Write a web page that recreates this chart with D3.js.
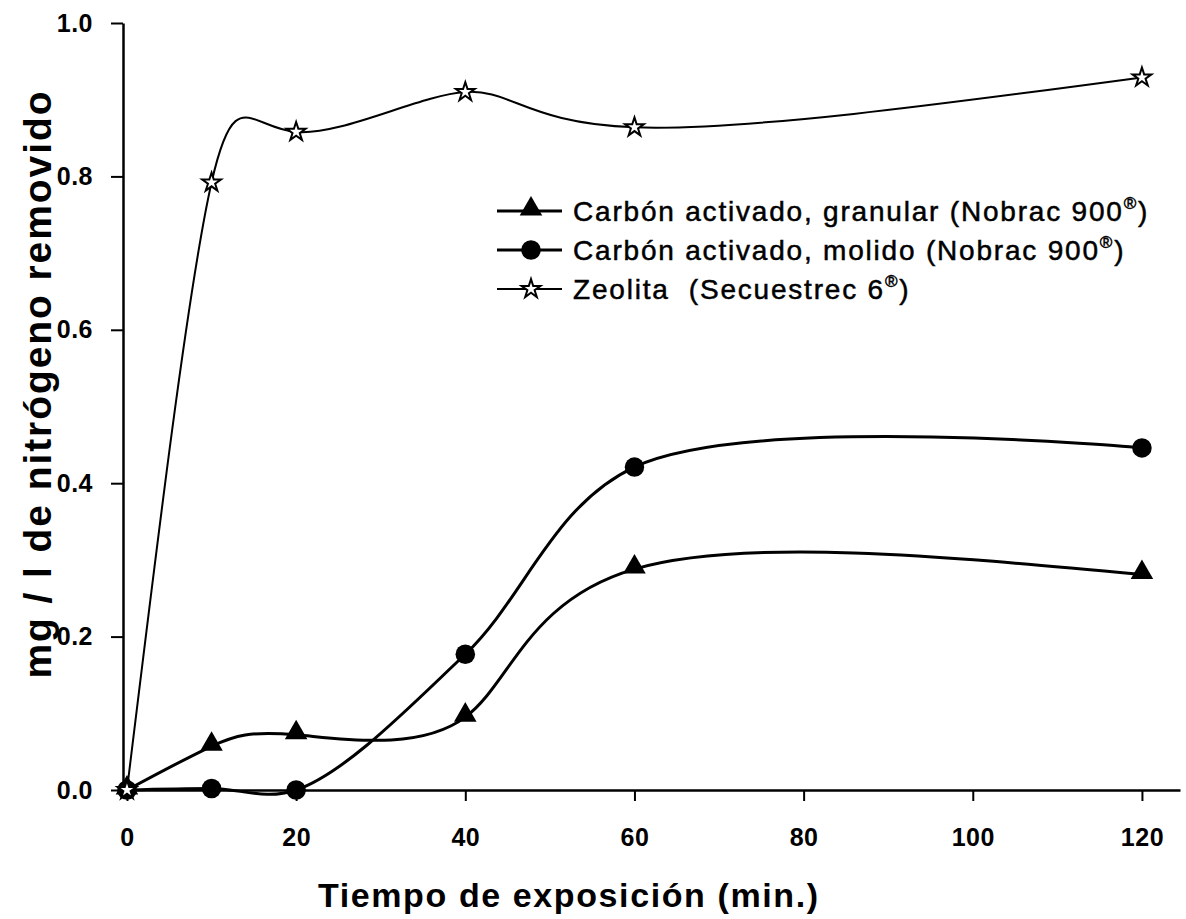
<!DOCTYPE html>
<html lang="es">
  <head>
    <meta charset="UTF-8">
    <title>Nitrógeno removido</title>
    <style>
      body { margin: 0; background: #fff; }
      svg text { font-family: "Liberation Sans", Arial, sans-serif; fill: #000; }
    </style>
  </head>
  <body>
    <div id="data_viz_area"></div>
    <script src="https://d3js.org/d3.v7.js"></script>
    <script>
        // values
        var tiempo = [0, 10, 20, 40, 60, 120];
        var granular = [0, 0.057, 0.072, 0.095, 0.288, 0.281];
        var molido = [0, 0.002, 0, 0.177, 0.421, 0.446];
        var zeolita = [0, 0.792, 0.858, 0.910, 0.864, 0.929];
        var xTicks = [0, 20, 40, 60, 80, 100, 120];
        var yTicks = [0, 0.2, 0.4, 0.6, 0.8, 1.0];
        var seriesNames = ["Carbón activado, granular (Nobrac 900", "Carbón activado, molido (Nobrac 900", "Zeolita  (Secuestrec 6"];

        var width = 1186, height = 919;

        var svg = d3.select("#data_viz_area")
          .append("svg")
            .attr("width", width)
            .attr("height", height);

        var x = d3.scaleLinear()
            .domain([-0.47, 124.5])
            .range([123, 1180]);

        var y = d3.scaleLinear()
            .domain([0, 1])
            .range([790, 23]);

        // X axis
        svg.append("g")
            .attr("transform", "translate(0," + y(0) + ")")
            .call(d3.axisBottom(x).tickValues(xTicks).tickSize(11).tickSizeOuter(0).tickPadding(27)
                .tickFormat(d3.format("d")));

        // Y axis
        svg.append("g")
            .attr("transform", "translate(" + x(-0.47) + ",0)")
            .call(d3.axisLeft(y).tickValues(yTicks).tickSize(12).tickSizeOuter(0).tickPadding(18)
                .tickFormat(d3.format(".1f")));

        svg.selectAll(".domain").attr("stroke-width", 2.5);
        svg.selectAll(".tick line").attr("stroke-width", 2);
        svg.selectAll(".tick text")
            .style("font-size", "25px")
            .style("font-weight", "bold")
            .style("letter-spacing", "0.5px");

        // axis titles
        svg.append("text")
            .attr("x", 568)
            .attr("y", 907)
            .attr("text-anchor", "middle")
            .style("font-size", "34px")
            .style("font-weight", "bold")
            .attr("textLength", 500)
            .attr("lengthAdjust", "spacing")
            .text("Tiempo de exposición (min.)");

        svg.append("text")
            .attr("transform", "translate(51,385) rotate(-90)")
            .attr("text-anchor", "middle")
            .style("font-size", "39px")
            .style("font-weight", "bold")
            .attr("textLength", 587)
            .attr("lengthAdjust", "spacing")
            .text("mg / l de nitrógeno removido");

        // lines
        function lineFor(vals, curve) {
            return d3.line()
                .x(function(d, i){ return x(tiempo[i]); })
                .y(function(d){ return y(d); })
                .curve(curve)(vals);
        }

        svg.append("path").attr("d", lineFor(zeolita, d3.curveNatural))
            .attr("fill", "none").attr("stroke", "#000").attr("stroke-width", 2);
        svg.append("path").attr("d", lineFor(granular, d3.curveNatural))
            .attr("fill", "none").attr("stroke", "#000").attr("stroke-width", 3);
        svg.append("path").attr("d", lineFor(molido, d3.curveCatmullRom.alpha(0.5)))
            .attr("fill", "none").attr("stroke", "#000").attr("stroke-width", 3);

        var tri = d3.symbol().type(d3.symbolTriangle).size(220);
        var circ = d3.symbol().type(d3.symbolCircle).size(300);
        var star = d3.symbol().type(d3.symbolStar).size(110);

        svg.selectAll(".tri")
          .data(granular)
          .enter()
          .append("path")
            .attr("d", tri)
            .attr("transform", function(d, i){ return "translate(" + x(tiempo[i]) + "," + (y(d) - 2) + ")"; })
            .attr("fill", "#000");

        svg.selectAll(".circ")
          .data(molido)
          .enter()
          .append("path")
            .attr("d", circ)
            .attr("transform", function(d, i){ return "translate(" + x(tiempo[i]) + "," + y(d) + ")"; })
            .attr("fill", "#000");

        svg.selectAll(".star")
          .data(zeolita)
          .enter()
          .append("path")
            .attr("d", star)
            .attr("transform", function(d, i){ return "translate(" + x(tiempo[i]) + "," + y(d) + ")"; })
            .attr("fill", "#fff")
            .attr("stroke", "#000")
            .attr("stroke-width", 2);

        // legend
        var legend = svg.append("g").attr("transform", "translate(497,211)");
        var symbols = [tri, circ, star];
        seriesNames.forEach(function(name, i) {
            var row = legend.append("g").attr("transform", "translate(0," + (i * 39) + ")");
            row.append("line")
                .attr("x1", 0).attr("x2", 65)
                .attr("stroke", "#000")
                .attr("stroke-width", i == 2 ? 2 : 3);
            row.append("path")
                .attr("d", symbols[i])
                .attr("transform", "translate(34," + (i == 0 ? -2 : 0) + ")")
                .attr("fill", i == 2 ? "#fff" : "#000")
                .attr("stroke", i == 2 ? "#000" : "none")
                .attr("stroke-width", 2);
            var t = row.append("text")
                .attr("x", 76)
                .attr("y", 10)
                .style("font-size", "28px")
                .style("letter-spacing", "1.8px")
                .style("stroke", "#000")
                .style("stroke-width", 0.5)
                .style("white-space", "pre");
            t.append("tspan").text(name);
            t.append("tspan").attr("dy", -12).style("font-size", "17px").text("®");
            t.append("tspan").attr("dy", 12).text(")");
        });
    </script>
  </body>
</html>
